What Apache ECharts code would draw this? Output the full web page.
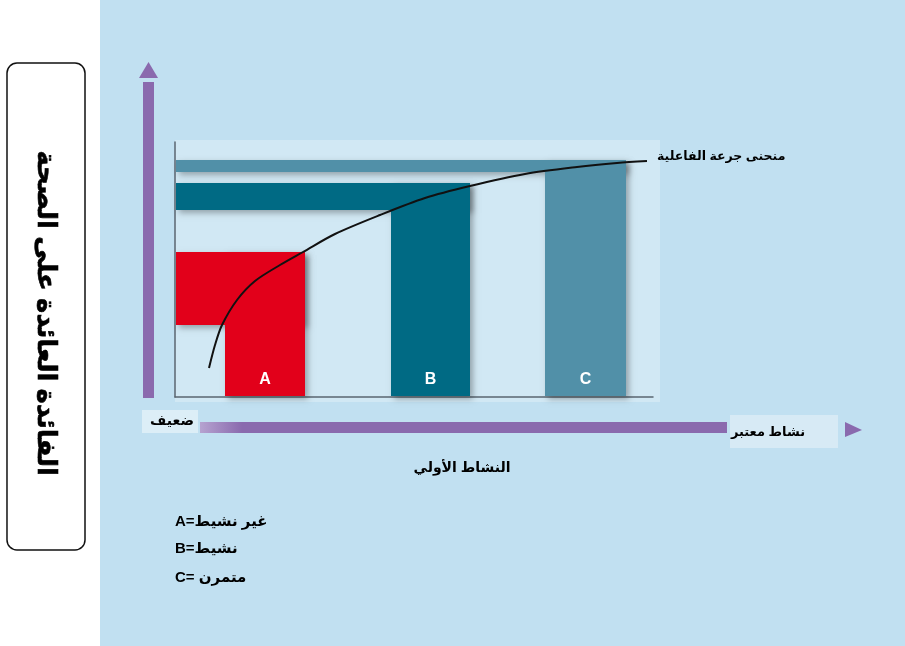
<!DOCTYPE html>
<html><head><meta charset="utf-8">
<script src="https://cdn.jsdelivr.net/npm/echarts@6/dist/echarts.min.js"></script>
<style>html,body{margin:0;padding:0;background:#fff}#c{width:905px;height:646px}</style>
</head><body><div id="c"></div>
<script>
// categories (activity groups)
const categories = ['A', 'B', 'C'];
// bar x extents (activity units) and heights (benefit units)
const barStart = [50, 216, 370];
const barEnd = [130, 295, 451];
const barTop = [145, 214, 237];
const bandBottom = [72, 187, 225];
const barColors = ['#e2001a', '#006a84', '#5190a8'];
// dose-response curve points [activity, benefit]
const curveX = [34, 40, 47, 62, 80, 105, 128, 160, 205, 250, 295, 350, 402, 442, 472];
const curveY = [29, 52, 72, 97, 116, 132, 145, 163, 182, 199, 211, 223, 230, 234, 236];
// texts
const yTitle = 'الفائدة العائدة على الصحة';
const xTitle = 'النشاط الأولي';
const lowLabel = 'ضعيف';
const highLabel = 'نشاط معتبر';
const curveLabel = 'منحنى جرعة الفاعلية';
const legendLines = ['A=غير نشيط', 'B=نشيط', 'C= متمرن'];

const AR = 'Arial, "Liberation Sans", "DejaVu Sans", sans-serif';
const chart = echarts.init(document.getElementById('c'), null, {renderer: 'canvas'});

const barData = categories.map((c, i) => [barStart[i], barEnd[i], barTop[i], bandBottom[i], i]);
const curveData = curveX.map((x, i) => [x, curveY[i]]);

const purple = '#8a6aae';
const graphics = [
  {type: 'rect', shape: {x: 100, y: 0, width: 805, height: 646}, style: {fill: '#c1e0f1'}, z: -10},
  {type: 'rect', shape: {x: 175, y: 140, width: 485, height: 262}, style: {fill: '#d1e8f4'}, z: -9},
  // left title box
  {type: 'rect', shape: {x: 7, y: 63, width: 78, height: 487, r: 10}, style: {fill: '#fff', stroke: '#111', lineWidth: 1.5}},
  {type: 'text', x: 45, y: 313, rotation: -Math.PI / 2, style: {text: yTitle, font: 'bold 26px ' + AR, fill: '#000', align: 'center', verticalAlign: 'middle', stroke: '#000', lineWidth: 0.6}},
  // vertical arrow
  {type: 'rect', shape: {x: 143, y: 82, width: 11, height: 316}, style: {fill: purple}},
  {type: 'polygon', shape: {points: [[148.5, 62], [139, 78], [158, 78]]}, style: {fill: purple}},
  // horizontal arrow
  {type: 'rect', shape: {x: 200, y: 422, width: 527, height: 11},
    style: {fill: new echarts.graphic.LinearGradient(0, 0, 1, 0, [{offset: 0, color: '#b6a3d0'}, {offset: 0.08, color: purple}, {offset: 1, color: purple}])}},
  {type: 'rect', shape: {x: 730, y: 415, width: 108, height: 33}, style: {fill: 'rgba(220,236,246,0.8)'}},
  {type: 'polygon', shape: {points: [[845, 422], [845, 437], [862, 430]]}, style: {fill: purple}},
  {type: 'text', x: 768, y: 432, style: {text: highLabel, font: 'bold 13px ' + AR, fill: '#000', align: 'center', verticalAlign: 'middle'}},
  {type: 'rect', shape: {x: 142, y: 410, width: 56, height: 23}, style: {fill: 'rgba(225,240,248,0.85)'}},
  {type: 'text', x: 172, y: 421, style: {text: lowLabel, font: 'bold 14px ' + AR, fill: '#000', align: 'center', verticalAlign: 'middle'}},
  {type: 'text', x: 462, y: 468, style: {text: xTitle, font: 'bold 14px ' + AR, fill: '#000', align: 'center', verticalAlign: 'middle'}},
  {type: 'text', x: 657, y: 157, style: {text: curveLabel, font: 'bold 12.5px ' + AR, fill: '#000', align: 'left', verticalAlign: 'middle'}},
];
legendLines.forEach((t, i) => {
  graphics.push({type: 'text', x: 175, y: [522, 549, 578][i], style: {text: t, font: 'bold 15px ' + AR, fill: '#000', align: 'left', verticalAlign: 'middle'}});
});

chart.setOption({
  animation: false,
  backgroundColor: '#ffffff',
  graphic: graphics,
  grid: {left: 175, top: 142, right: 252, bottom: 249},
  xAxis: {type: 'value', min: 0, max: 478, axisLine: {show: true, lineStyle: {color: '#5a6670', width: 1.5}}, axisTick: {show: false}, axisLabel: {show: false}, splitLine: {show: false}},
  yAxis: {type: 'value', min: 0, max: 255, axisLine: {show: true, lineStyle: {color: '#5a6670', width: 1.5}}, axisTick: {show: false}, axisLabel: {show: false}, splitLine: {show: false}},
  series: [
    {
      type: 'custom', data: barData, z: 2,
      renderItem(params, api) {
        const x0 = api.value(0), x1 = api.value(1), top = api.value(2), bb = api.value(3);
        const idx = api.value(4);
        const col = barColors[idx];
        const bl = api.coord([x0, 0]), tr = api.coord([x1, top]);
        const bandTL = api.coord([0, top]), bandBR = api.coord([x1, bb]);
        const sh = {shadowBlur: 6, shadowColor: 'rgba(0,0,0,0.3)', shadowOffsetX: 3, shadowOffsetY: 3};
        return {type: 'group', children: [
          {type: 'rect', shape: {x: bandTL[0] + 1, y: bandTL[1], width: bandBR[0] - bandTL[0] - 1, height: bandBR[1] - bandTL[1]}, style: Object.assign({fill: col}, sh)},
          {type: 'rect', shape: {x: bl[0], y: tr[1], width: tr[0] - bl[0], height: bl[1] - tr[1] - 1}, style: Object.assign({fill: col}, sh)},
          {type: 'rect', shape: {x: bandTL[0] + 1, y: bandTL[1], width: bandBR[0] - bandTL[0] - 1, height: bandBR[1] - bandTL[1]}, style: {fill: col}},
          {type: 'text', style: {text: categories[idx], x: (bl[0] + tr[0]) / 2, y: bl[1] - 17, fill: '#fff', font: 'bold 16px Arial, "Liberation Sans", sans-serif', textAlign: 'center', textVerticalAlign: 'middle', align: 'center', verticalAlign: 'middle'}}
        ]};
      }
    },
    {
      type: 'line', data: curveData, smooth: 0.3, symbol: 'none', z: 3,
      lineStyle: {color: '#111', width: 2}
    }
  ]
});
</script></body></html>
